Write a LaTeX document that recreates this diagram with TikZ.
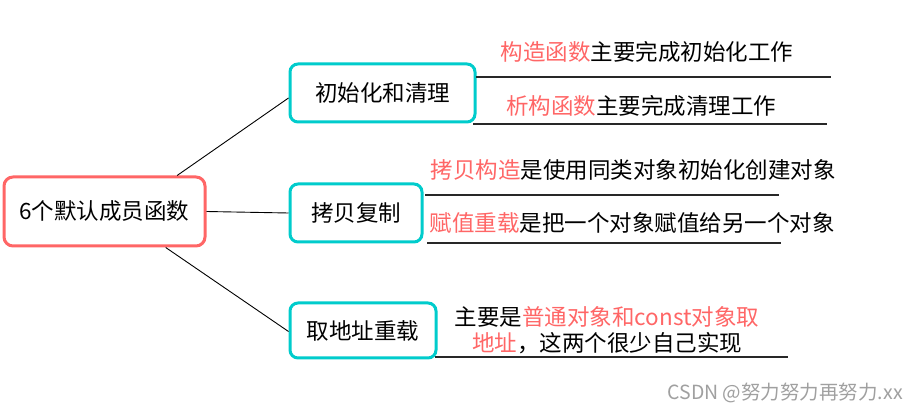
\documentclass[tikz,border=0pt]{standalone}
\usepackage{fontspec}
\setmainfont{Noto Sans CJK SC}
\usetikzlibrary{calc}
\definecolor{bteal}{RGB}{0,204,204}
\definecolor{rootred}{RGB}{255,102,102}
\definecolor{hl}{RGB}{255,102,102}
\definecolor{ulinec}{RGB}{40,40,40}
\definecolor{wm}{RGB}{160,160,160}
\begin{document}
\begin{tikzpicture}[x=1pt,y=-1pt,
  every node/.style={font=\fontsize{22.5}{26}\selectfont, text=black},
  rootbox/.style={draw=rootred, line width=3pt, rounded corners=9pt, minimum width=201pt, minimum height=69pt, inner sep=0pt},
  branchbox/.style={draw=bteal, line width=3pt, rounded corners=8pt, minimum height=58pt, inner sep=0pt},
  leaf/.style={inner sep=0pt, align=center},
  conn/.style={draw=black, line width=0.9pt},
  uline/.style={draw=ulinec, line width=1.3pt},
]
\useasboundingbox (0,0) rectangle (918,411);
\fill[white] (0,0) rectangle (918,411);

\node[rootbox] (root) at (104.5,211.5) {6个默认成员函数};
\node[branchbox, minimum width=185pt] (b1) at (382.5,93) {初始化和清理};
\node[branchbox, minimum width=132pt] (b2) at (356,213) {拷贝复制};
\node[branchbox, minimum width=146pt, minimum height=55pt] (b3) at (363,330.5) {取地址重载};

\draw[conn] ($(root.north west)!0.856!(root.north east)$) -- ([yshift=-5pt]b1.west);
\draw[conn] (root.east) -- (b2.west);
\draw[conn] ($(root.south west)!0.80!(root.south east)$) -- ([yshift=-1pt]b3.west);

\node[leaf] (l1) at (647,52) {\textcolor{hl}{构造函数}主要完成初始化工作};
\node[leaf] (l2) at (641,106) {\textcolor{hl}{析构函数}主要完成清理工作};
\node[leaf] (l3) at (633,170) {\textcolor{hl}{拷贝构造}是使用同类对象初始化创建对象};
\node[leaf] (l4) at (632,223) {\textcolor{hl}{赋值重载}是把一个对象赋值给另一个对象};
\node[leaf] (l5) at (607,330) {主要是\textcolor{hl}{普通对象和const对象取}\\\textcolor{hl}{地址}，这两个很少自己实现};

\coordinate (u1a) at (476,77);  \coordinate (u1b) at (831,77);
\coordinate (u2a) at (473,124); \coordinate (u2b) at (827,124);
\coordinate (u3a) at (425,195); \coordinate (u3b) at (779,195);
\coordinate (u4a) at (427,243); \coordinate (u4b) at (781,243);
\coordinate (u5a) at (435,357); \coordinate (u5b) at (788,357);
\draw[uline] (u1a) -- (u1b);
\draw[uline] (u2a) -- (u2b);
\draw[uline] (u3a) -- (u3b);
\draw[uline] (u4a) -- (u4b);
\draw[uline] (u5a) -- (u5b);

\node[inner sep=0pt, anchor=east, font=\fontsize{19.5}{21}\selectfont, text=wm] (wm) at (903,393) {CSDN @努力努力再努力.xx};
\end{tikzpicture}
\end{document}
